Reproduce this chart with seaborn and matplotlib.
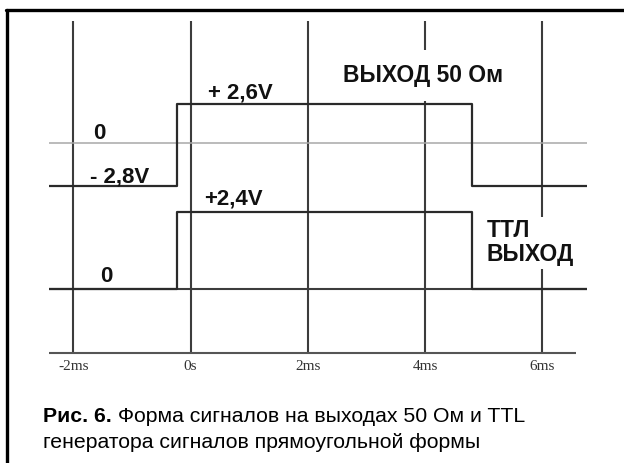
import matplotlib
matplotlib.use('Agg')
import matplotlib.pyplot as plt
from matplotlib.lines import Line2D
import seaborn as sns

# time grid (ms) and its labels
time_ticks = [-2, 0, 2, 4, 6]
tick_labels = ['-2ms', '0s', '2ms', '4ms', '6ms']

# pulse edges (ms) and screen span
t_start, t_rise, t_fall, t_end = -2.415, -0.23, 4.806, 6.757
axis_end = 6.575

# 50 Ohm output: levels in volts
out50_low, out50_high = -2.8, 2.6
# TTL output: levels in volts
ttl_low, ttl_high = 0.0, 2.4

# trace positions on screen (offset and volts-per-division style gain)
base50, gain50 = 4.568, 0.475
base_ttl, gain_ttl = 0.0, 1.0

sns.set_style('white')
plt.rcParams['font.family'] = ['Liberation Sans', 'DejaVu Sans']

fig = plt.figure(figsize=(6.24, 4.63), dpi=100)
ax = fig.add_axes([49 / 624, 1 - 353.3 / 463, (586.7 - 49) / 624, (353.3 - 20.7) / 463])
ax.set_xlim(t_start, t_end)
ax.set_ylim(-2.03, 8.42)
for s in ax.spines.values():
    s.set_visible(False)

grid_col = '#3c3c3c'
# vertical grid lines
ax.vlines(time_ticks, -2.03, 8.42, color=grid_col, lw=1.5, zorder=1)
# zero lines
ax.axhline(base50, color='#a8a8a8', lw=1.1, zorder=1)
ax.axhline(base_ttl, color=grid_col, lw=1.5, zorder=1)
# bottom time axis
ax.hlines(-2.03, t_start, axis_end, color='#555555', lw=1.5, clip_on=False)

# signals
t = [t_start, t_rise, t_fall, t_end]
v50 = [out50_low, out50_high, out50_low, out50_low]
vttl = [ttl_low, ttl_high, ttl_low, ttl_low]
y50 = [base50 + gain50 * v for v in v50]
yttl = [base_ttl + gain_ttl * v for v in vttl]
sns.lineplot(x=t, y=y50, drawstyle='steps-post', estimator=None, color='#2a2a2a', lw=1.6, ax=ax, zorder=2)
sns.lineplot(x=t, y=yttl, drawstyle='steps-post', estimator=None, color='#2a2a2a', lw=1.6, ax=ax, zorder=2)

ax.set_yticks([])
ax.set_xticks(time_ticks)
ax.set_xticklabels(tick_labels, family='Liberation Serif', fontsize=11, color='#333333')
ax.tick_params(axis='x', length=0, pad=5)
ax.set_xlabel('')
ax.set_ylabel('')

# level labels
lab = dict(color='#111111', fontsize=16, fontweight='bold')
ax.text(-1.557, base50 + 0.31, '0', ha='center', va='center', **lab)
ax.text(-1.716, 3.50, '- 2,8V', ha='left', va='center', **lab)
ax.text(0.297, 6.16, '+ 2,6V', ha='left', va='center', **lab)
ax.text(0.229, 2.82, '+2,4V', ha='left', va='center', **lab)
ax.text(-1.43, 0.377, '0', ha='center', va='center', **lab)

# channel names (white box breaks the grid lines behind them)
ax.text(2.6, 6.71, 'ВЫХОД 50 Ом', ha='left', va='center', fontsize=16.5, fontweight='bold', color='#111111',
        bbox=dict(facecolor='white', edgecolor='none', pad=10), zorder=3)
ax.text(5.05, 1.44, 'ТТЛ\nВЫХОД', ha='left', va='center', fontsize=16.5, fontweight='bold', color='#111111',
        linespacing=1.05, bbox=dict(facecolor='white', edgecolor='none', pad=2), zorder=3)

# frame (top and left edges)
fig.add_artist(Line2D([6 / 624, 1], [1 - 9.5 / 463] * 2, transform=fig.transFigure, color='black', lw=2.4))
fig.add_artist(Line2D([7 / 624] * 2, [0, 1 - 9.5 / 463], transform=fig.transFigure, color='black', lw=2.4))

# caption
cap = fig.text(43 / 624, 1 - 416.7 / 463, 'Рис. 6.', fontsize=15.3, fontweight='bold', va='center', color='black')
ax.annotate(' Форма сигналов на выходах 50 Ом и TTL', xy=(1, 0), xycoords=cap, va='bottom', ha='left',
            fontsize=15.3, color='black', annotation_clip=False)
fig.text(43 / 624, 1 - 443 / 463, 'генератора сигналов прямоугольной формы', fontsize=15.3, va='center', color='black')

fig.savefig('out.png', dpi=100)
